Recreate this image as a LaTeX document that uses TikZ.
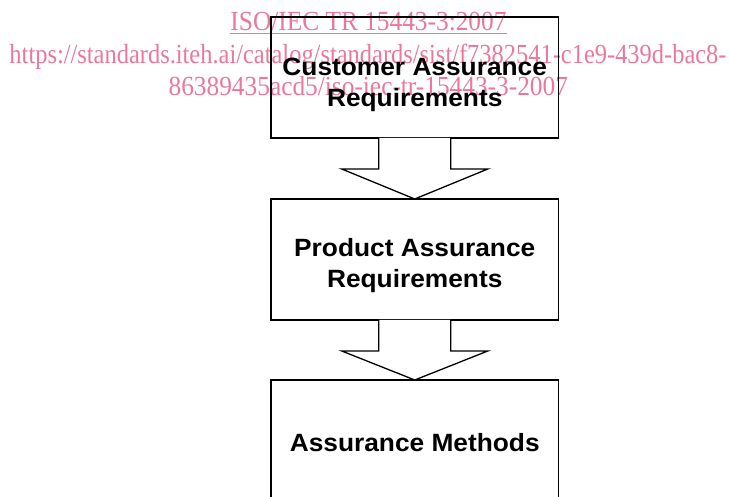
\documentclass[tikz,border=0pt]{standalone}
\usepackage{fontspec}
\setmainfont{Liberation Serif}
\newfontfamily\arialfont{Liberation Sans}
\usetikzlibrary{calc}
\definecolor{wmpink}{RGB}{235,120,155}
\newcommand{\wmtext}[2]{\scalebox{1}[#1]{#2}}
\begin{document}
\begin{tikzpicture}[x=1pt,y=-1pt,
  box/.style={draw, line width=1.3pt, minimum width=287.5pt, minimum height=121pt, inner sep=0pt, outer sep=0pt},
  lbl/.style={inner sep=0pt, outer sep=0pt, anchor=base, font=\arialfont\bfseries\fontsize{26.3}{30}\selectfont},
  wm/.style={inner sep=0pt, outer sep=0pt, anchor=base, text=wmpink, font=\fontsize{25.35}{32}\selectfont},
  wmnarrow/.style={wm, font=\fontsize{24.45}{32}\selectfont},
  blockarrow/.style={draw, line width=1.3pt, line join=miter}]
\useasboundingbox (0,0) rectangle (729,497);
\clip (0,0) rectangle (729,497);
% watermark
\node[wm] (w1) at (368.5,30.5) {\wmtext{1.09}{ISO/IEC TR 15443-3:2007}};
\draw[wmpink, line width=1.2pt] ($(w1.base west)+(0,2.8)$) -- ($(w1.base east)+(0,2.8)$);
\node[wmnarrow] (w2) at (368,63.5) {\wmtext{1.13}{https://standards.iteh.ai/catalog/standards/sist/f7382541-c1e9-439d-bac8-}};
\node[wm] (w3) at (368.3,96) {\wmtext{1.09}{86389435acd5/iso-iec-tr-15443-3-2007}};
% boxes
\node[box] (b1) at (414.75,77.5) {};
\node[box] (b2) at (414.75,259.5) {};
\node[box] (b3) at (414.75,440.5) {};
% labels
\node[lbl] (t1a) at (414.75,75.5) {\scalebox{1}[0.95]{Customer Assurance}};
\node[lbl] (t1b) at (414.75,107) {\scalebox{1}[0.95]{Requirements}};
\node[lbl] (t2a) at (414.75,257) {\scalebox{1}[0.95]{Product Assurance}};
\node[lbl] (t2b) at (414.75,287.5) {\scalebox{1}[0.95]{Requirements}};
\node[lbl] (t3) at (414.75,451) {\scalebox{1}[0.95]{Assurance Methods}};
% block arrows
\foreach \a/\b in {b1/b2, b2/b3}{
  \fill[white] ($(\a.south)+(-36,0)$) -- ($(\a.south)+(-36,31)$) -- ($(\a.south)+(-73,31)$) -- (\b.north) -- ($(\a.south)+(73,31)$) -- ($(\a.south)+(36,31)$) -- ($(\a.south)+(36,0)$) -- cycle;
  \draw[blockarrow] ($(\a.south)+(-36,0)$) -- ($(\a.south)+(-36,31)$) -- ($(\a.south)+(-73,31)$) -- (\b.north) -- ($(\a.south)+(73,31)$) -- ($(\a.south)+(36,31)$) -- ($(\a.south)+(36,0)$);
}
\end{tikzpicture}
\end{document}
